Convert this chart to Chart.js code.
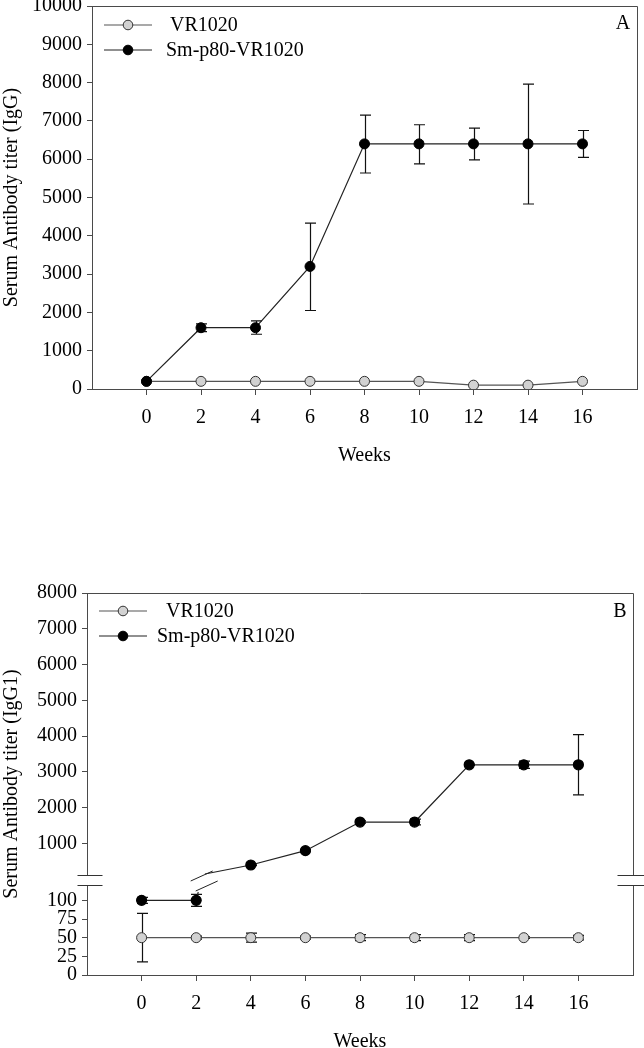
<!DOCTYPE html>
<html><head><meta charset="utf-8">
<script src="https://cdn.jsdelivr.net/npm/chart.js@4.4.0/dist/chart.umd.min.js"></script>
<style>
html,body{margin:0;padding:0;background:#fff;overflow:hidden;width:644px;height:1048px;}
canvas{position:absolute;left:0;}
#ca{top:0;}
#cb{top:540px;}
</style></head><body>
<canvas id="ca" width="644" height="470"></canvas>
<canvas id="cb" width="644" height="520"></canvas>
<script>
// ---------- data ----------
const weeks = [0, 2, 4, 6, 8, 10, 12, 14, 16];
const weekTicks = [0, 2, 4, 6, 8, 10, 12, 14, 16];
const seriesNames = ['VR1020', 'Sm-p80-VR1020'];

// Panel A (IgG)
const aYTicks = [0, 1000, 2000, 3000, 4000, 5000, 6000, 7000, 8000, 9000, 10000];
const aVR = [200, 200, 200, 200, 200, 200, 100, 100, 200];
const aVRErr = [0, 0, 0, 0, 0, 0, 0, 0, 0];
const aSm = [200, 1600, 1600, 3200, 6400, 6400, 6400, 6400, 6400];
const aSmErrUp = [0, 100, 180, 1130, 750, 500, 410, 1560, 350];
const aSmErrDn = [0, 100, 170, 1150, 760, 520, 420, 1570, 350];

// Panel B (IgG1) - broken axis
const bYTicksUpper = [1000, 2000, 3000, 4000, 5000, 6000, 7000, 8000];
const bYTicksLower = [0, 25, 50, 75, 100];
const bVR = [50, 50, 50, 50, 50, 50, 50, 50, 50];
const bVRErr = [32.5, 2, 6, 2, 4, 4, 4, 1, 3];
const bSmLowWeeks = [0, 2];
const bSmLow = [100, 100];
const bSmLowErr = [4, 8];
const bSmUpWeeks = [4, 6, 8, 10, 12, 14, 16];
const bSmUp = [400, 800, 1600, 1600, 3200, 3200, 3200];
const bSmUpErr = [20, 30, 30, 80, 20, 100, 840];

// ---------- styling ----------
const FONT = "'Liberation Serif','Times New Roman',serif";
Chart.defaults.font.family = FONT;
Chart.defaults.font.size = 20;
Chart.defaults.color = '#000';
Chart.defaults.animation = false;
const AXIS = '#4a4a4a';
const GRAYFILL = '#d2d2d2';

function pts(xs, ys) { return xs.map((x, i) => ({ x: x, y: ys[i] })); }
function setTicks(arr) { return s => { s.ticks = arr.map(v => ({ value: v })); }; }
const plain = v => String(v);

const errorBars = {
  id: 'errorBars',
  beforeDatasetsDraw(chart) {
    const ctx = chart.ctx;
    chart.data.datasets.forEach((ds, i) => {
      if (!ds.errUp) return;
      const meta = chart.getDatasetMeta(i);
      const xs = chart.scales[meta.xAxisID], ys = chart.scales[meta.yAxisID];
      ctx.save();
      ctx.strokeStyle = '#111';
      ctx.lineWidth = 1.2;
      ds.data.forEach((p, j) => {
        const up = ds.errUp[j], dn = ds.errDn[j];
        if (!up && !dn) return;
        const x = Math.round(xs.getPixelForValue(p.x)) + 0.5;
        const y1 = ys.getPixelForValue(p.y + up), y2 = ys.getPixelForValue(p.y - dn);
        ctx.beginPath();
        ctx.moveTo(x, y1); ctx.lineTo(x, y2);
        ctx.moveTo(x - 5.5, y1); ctx.lineTo(x + 5.5, y1);
        ctx.moveTo(x - 5.5, y2); ctx.lineTo(x + 5.5, y2);
        ctx.stroke();
      });
      ctx.restore();
    });
  }
};

function drawLegend(ctx, lx1, lx2, mx, rows, textX) {
  ctx.save();
  rows.forEach((r, i) => {
    ctx.strokeStyle = r.line; ctx.lineWidth = 1.2;
    ctx.beginPath(); ctx.moveTo(lx1, r.y); ctx.lineTo(lx2, r.y); ctx.stroke();
    ctx.beginPath(); ctx.arc(mx, r.y, 4.8, 0, Math.PI * 2);
    ctx.fillStyle = r.fill; ctx.fill();
    ctx.strokeStyle = r.edge; ctx.lineWidth = 1; ctx.stroke();
    ctx.fillStyle = '#000'; ctx.font = '20px ' + FONT;
    ctx.textBaseline = 'middle'; ctx.textAlign = 'left';
    ctx.fillText(r.text, textX[i], r.y + 1);
  });
  ctx.restore();
}

// ---------- Panel A ----------
const panelA = {
  id: 'panelA',
  afterDraw(chart) {
    const ctx = chart.ctx, a = chart.chartArea;
    ctx.save();
    ctx.strokeStyle = AXIS; ctx.lineWidth = 1;
    ctx.beginPath();
    ctx.moveTo(Math.round(a.left) + 0.5, Math.round(a.top) + 0.5);
    ctx.lineTo(Math.round(a.right) + 0.5, Math.round(a.top) + 0.5);
    ctx.lineTo(Math.round(a.right) + 0.5, Math.round(a.bottom) + 0.5);
    ctx.stroke();
    ctx.fillStyle = '#000'; ctx.font = '20px ' + FONT;
    ctx.textAlign = 'center'; ctx.textBaseline = 'middle';
    ctx.fillText('A', 623, 24);
    ctx.restore();
    drawLegend(ctx, 104, 152, 128, [
      { y: 25, line: '#555', fill: GRAYFILL, edge: '#333', text: seriesNames[0] },
      { y: 50, line: '#222', fill: '#000', edge: '#000', text: seriesNames[1] }
    ], [170, 166]);
  }
};

new Chart(document.getElementById('ca'), {
  type: 'line',
  data: {
    datasets: [
      { label: seriesNames[1], data: pts(weeks, aSm), errUp: aSmErrUp, errDn: aSmErrDn,
        borderColor: '#222', borderWidth: 1.2, pointRadius: 5, pointHoverRadius: 5,
        pointBackgroundColor: '#000', pointBorderColor: '#000', pointBorderWidth: 1, tension: 0 },
      { label: seriesNames[0], data: pts(weeks, aVR), errUp: aVRErr, errDn: aVRErr,
        borderColor: '#555', borderWidth: 1.2, pointRadius: 5, pointHoverRadius: 5,
        pointBackgroundColor: GRAYFILL, pointBorderColor: '#333', pointBorderWidth: 1, tension: 0 }
    ]
  },
  options: {
    responsive: false,
    devicePixelRatio: 1,
    layout: { padding: { top: 6, right: 7, left: 0, bottom: 0 } },
    plugins: { legend: { display: false }, tooltip: { enabled: false } },
    scales: {
      x: {
        type: 'linear', min: -2, max: 18,
        afterBuildTicks: setTicks(weekTicks),
        afterFit: s => { s.height = 81; s.paddingLeft = 0; s.paddingRight = 0; },
        grid: { drawOnChartArea: false, tickLength: 6, color: AXIS, tickColor: AXIS },
        border: { color: AXIS, width: 1 },
        ticks: { padding: 11, maxRotation: 0, autoSkip: false, font: { size: 20 }, callback: plain },
        title: { display: true, text: 'Weeks', font: { size: 20 }, padding: { top: 0, bottom: 2 } }
      },
      y: {
        type: 'linear', min: 0, max: 10000,
        afterBuildTicks: setTicks(aYTicks),
        afterFit: s => { s.width = 92; s.paddingTop = 0; s.paddingBottom = 0; },
        grid: { drawOnChartArea: false, tickLength: 5, color: AXIS, tickColor: AXIS },
        border: { color: AXIS, width: 1 },
        ticks: { padding: 5, autoSkip: false, font: { size: 20 }, callback: plain },
        title: { display: true, text: 'Serum Antibody titer (IgG)', font: { size: 20 }, padding: 0 }
      }
    }
  },
  plugins: [errorBars, panelA]
});

// ---------- Panel B ----------
const panelB = {
  id: 'panelB',
  beforeDatasetsDraw(chart) {
    // connector across the axis break (week 2 -> week 4 of Sm-p80-VR1020)
    const ctx = chart.ctx, xs = chart.scales.x, yU = chart.scales.yU, yL = chart.scales.yL;
    const w0 = bSmLowWeeks[bSmLowWeeks.length - 1], v0 = bSmLow[bSmLow.length - 1];
    const w1 = bSmUpWeeks[0], v1 = bSmUp[0];
    const x0 = xs.getPixelForValue(w0), x1 = xs.getPixelForValue(w1);
    ctx.save();
    ctx.strokeStyle = '#222'; ctx.lineWidth = 1.2;
    // lower part
    const ly0 = yL.getPixelForValue(v0), ly1 = yL.getPixelForValue(v1);
    const stopY = yL.top + 17;
    const t = (stopY - ly0) / (ly1 - ly0);
    ctx.beginPath(); ctx.moveTo(x0, ly0); ctx.lineTo(x0 + t * (x1 - x0), stopY); ctx.stroke();
    // upper part
    const uy0 = yU.getPixelForValue(v0), uy1 = yU.getPixelForValue(v1);
    const ts = 0.16;
    ctx.beginPath(); ctx.moveTo(x0 + ts * (x1 - x0), uy0 + ts * (uy1 - uy0)); ctx.lineTo(x1, uy1); ctx.stroke();
    // break marks
    ctx.lineWidth = 1;
    const cx = x0 + 8, cy = yL.top + 6;
    [-5, 5].forEach(d => {
      ctx.beginPath();
      ctx.moveTo(cx - 11 + d * 0.5, cy + 5 + d);
      ctx.lineTo(cx + 11 + d * 0.5, cy - 5 + d);
      ctx.stroke();
    });
    ctx.restore();
  },
  afterDraw(chart) {
    const ctx = chart.ctx, a = chart.chartArea, yL = chart.scales.yL;
    const L = Math.round(a.left) + 0.5, R = Math.round(a.right) + 0.5, T = Math.round(a.top) + 0.5;
    const g1 = Math.round(yL.top), g2 = g1 + 10;
    ctx.save();
    ctx.strokeStyle = AXIS; ctx.lineWidth = 1;
    ctx.beginPath();
    ctx.moveTo(L, T); ctx.lineTo(R, T);
    ctx.moveTo(R, T); ctx.lineTo(R, g1 + 0.5);
    ctx.moveTo(R, g2 + 0.5); ctx.lineTo(R, Math.round(a.bottom) + 0.5);
    ctx.stroke();
    // gap in the left axis
    ctx.fillStyle = '#fff';
    ctx.fillRect(L - 2, g1 + 1, 4, g2 - g1 - 1);
    ctx.strokeStyle = '#333';
    ctx.beginPath();
    ctx.moveTo(L - 10, g1 + 0.5); ctx.lineTo(L + 15, g1 + 0.5);
    ctx.moveTo(L - 10, g2 + 0.5); ctx.lineTo(L + 15, g2 + 0.5);
    ctx.moveTo(R - 16, g1 + 0.5); ctx.lineTo(R + 12, g1 + 0.5);
    ctx.moveTo(R - 16, g2 + 0.5); ctx.lineTo(R + 12, g2 + 0.5);
    ctx.stroke();
    // y title centred on the whole plot height
    ctx.fillStyle = '#000'; ctx.font = '20px ' + FONT;
    ctx.textAlign = 'center'; ctx.textBaseline = 'middle';
    ctx.save();
    ctx.translate(12, (a.top + a.bottom) / 2);
    ctx.rotate(-Math.PI / 2);
    ctx.fillText('Serum Antibody titer (IgG1)', 0, 0);
    ctx.restore();
    ctx.fillText('B', 620, 72);
    ctx.restore();
    drawLegend(ctx, 99, 147, 123, [
      { y: 71, line: '#555', fill: GRAYFILL, edge: '#333', text: seriesNames[0] },
      { y: 96, line: '#222', fill: '#000', edge: '#000', text: seriesNames[1] }
    ], [166, 157]);
  }
};

new Chart(document.getElementById('cb'), {
  type: 'line',
  data: {
    datasets: [
      { label: seriesNames[1], data: pts(bSmLowWeeks, bSmLow), errUp: bSmLowErr, errDn: bSmLowErr,
        yAxisID: 'yL', borderColor: '#222', borderWidth: 1.2, pointRadius: 5, pointHoverRadius: 5,
        pointBackgroundColor: '#000', pointBorderColor: '#000', tension: 0 },
      { label: seriesNames[1], data: pts(bSmUpWeeks, bSmUp), errUp: bSmUpErr, errDn: bSmUpErr,
        yAxisID: 'yU', borderColor: '#222', borderWidth: 1.2, pointRadius: 5, pointHoverRadius: 5,
        pointBackgroundColor: '#000', pointBorderColor: '#000', tension: 0 },
      { label: seriesNames[0], data: pts(weeks, bVR), errUp: bVRErr, errDn: bVRErr,
        yAxisID: 'yL', borderColor: '#555', borderWidth: 1.2, pointRadius: 5, pointHoverRadius: 5,
        pointBackgroundColor: GRAYFILL, pointBorderColor: '#333', pointBorderWidth: 1, tension: 0 }
    ]
  },
  options: {
    responsive: false,
    devicePixelRatio: 1,
    layout: { padding: { top: 53, right: 11, left: 0, bottom: 0 } },
    plugins: { legend: { display: false }, tooltip: { enabled: false } },
    scales: {
      x: {
        type: 'linear', min: -2, max: 18,
        afterBuildTicks: setTicks(weekTicks),
        afterFit: s => { s.height = 85; s.paddingLeft = 0; s.paddingRight = 0; },
        grid: { drawOnChartArea: false, tickLength: 6, color: AXIS, tickColor: AXIS },
        border: { color: AXIS, width: 1 },
        ticks: { padding: 11, maxRotation: 0, autoSkip: false, font: { size: 20 }, callback: plain },
        title: { display: true, text: 'Weeks', font: { size: 20 }, padding: { top: 0, bottom: 6 } }
      },
      yL: {
        type: 'linear', position: 'left', stack: 'y', stackWeight: 100, min: 0, max: 134,
        afterBuildTicks: setTicks(bYTicksLower),
        afterFit: s => { s.width = 87; s.paddingTop = 0; s.paddingBottom = 0; },
        grid: { drawOnChartArea: false, tickLength: 5, color: AXIS, tickColor: AXIS },
        border: { color: AXIS, width: 1 },
        ticks: { padding: 5, autoSkip: false, font: { size: 20 }, callback: plain }
      },
      yU: {
        type: 'linear', position: 'left', stack: 'y', stackWeight: 282, min: 120, max: 8000,
        afterBuildTicks: setTicks(bYTicksUpper),
        afterFit: s => { s.width = 87; s.paddingTop = 0; s.paddingBottom = 0; },
        grid: { drawOnChartArea: false, tickLength: 5, color: AXIS, tickColor: AXIS },
        border: { color: AXIS, width: 1 },
        ticks: { padding: 5, autoSkip: false, font: { size: 20 }, callback: plain }
      }
    }
  },
  plugins: [errorBars, panelB]
});
</script>
</body></html>
